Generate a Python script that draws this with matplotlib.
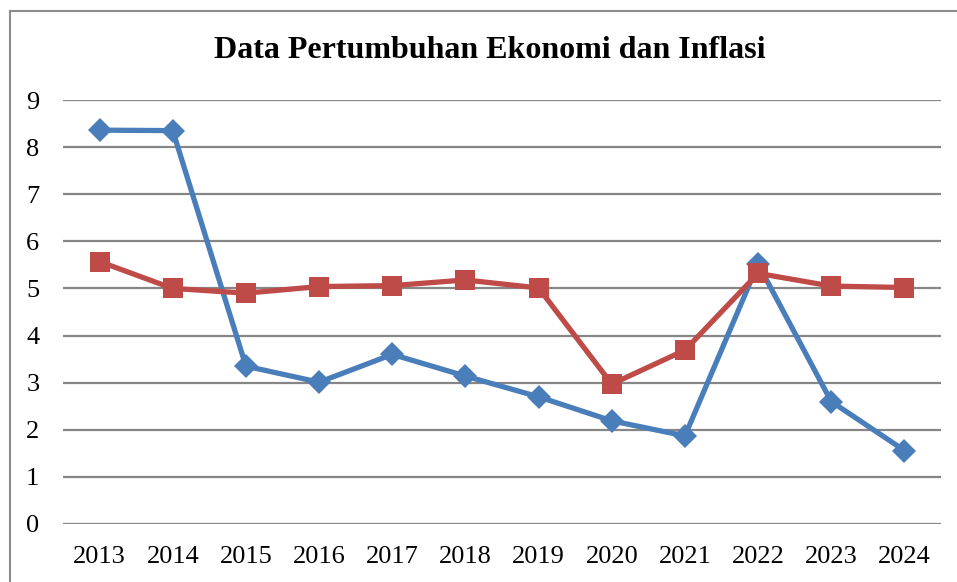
import matplotlib
matplotlib.use("Agg")
import matplotlib.pyplot as plt
from matplotlib.lines import Line2D

years = ["2013", "2014", "2015", "2016", "2017", "2018",
         "2019", "2020", "2021", "2022", "2023", "2024"]
inflasi = [8.36, 8.35, 3.35, 3.01, 3.60, 3.14, 2.70, 2.19, 1.87, 5.52, 2.60, 1.56]
pertumbuhan = [5.57, 5.00, 4.90, 5.04, 5.06, 5.18, 5.01, 2.97, 3.69, 5.32, 5.05, 5.02]

plt.rcParams['font.family'] = ['Liberation Serif', 'DejaVu Serif']

W, H = 957, 582
fig = plt.figure(figsize=(W / 100, H / 100), dpi=100)
ax = fig.add_axes([63 / W, 1 - 524 / H, (941 - 63) / W, (524 - 100) / H])

x = list(range(len(years)))
ax.plot(x, inflasi, color="#4A7EBB", lw=3.8, marker="D", markersize=12,
        markeredgewidth=0, zorder=3)
ax.plot(x, pertumbuhan, color="#BE4B48", lw=3.8, marker="s", markersize=14,
        markeredgewidth=0, zorder=4)

ax.set_xlim(-0.5, len(years) - 0.5)
ax.set_ylim(0, 9)
ax.set_yticks(range(0, 10))
ax.set_xticks(x)
ax.set_xticklabels(years)
ax.tick_params(axis="both", length=0, labelsize=19)
ax.tick_params(axis="y", pad=17)
ax.tick_params(axis="x", pad=16)
ax.yaxis.grid(True, color="#868686", lw=1.6)
ax.set_axisbelow(True)
for s in ax.spines.values():
    s.set_visible(False)

fig.text(490 / W, 1 - 50 / H, "Data Pertumbuhan Ekonomi dan Inflasi",
         ha="center", va="center", fontsize=23, fontweight="bold")

# chart border (cut off at right and bottom)
fig.add_artist(Line2D([9.5 / W, 9.5 / W], [0, 1 - 11 / H], color="#8C8C8C", lw=1.5,
                      transform=fig.transFigure))
fig.add_artist(Line2D([9.5 / W, 1], [1 - 11 / H, 1 - 11 / H], color="#8C8C8C", lw=1.5,
                      transform=fig.transFigure))

fig.savefig("out.png", dpi=100)
